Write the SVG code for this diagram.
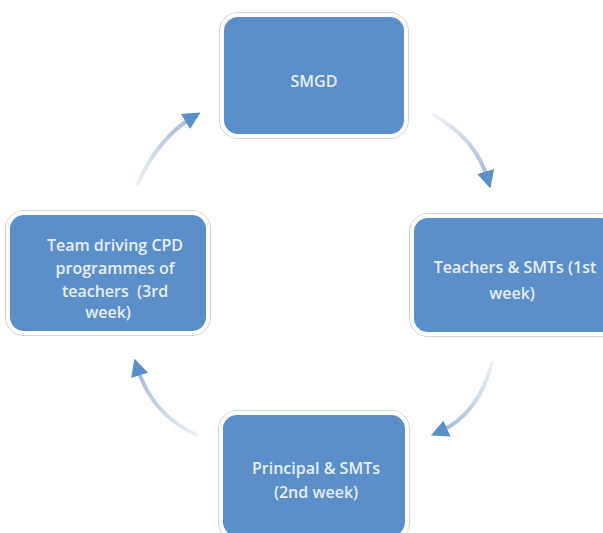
<svg xmlns="http://www.w3.org/2000/svg" width="603" height="533" viewBox="0 0 603 533">
<style>
.box{fill:#5b8fca;stroke:#ffffff;stroke-width:4}
.edge{fill:none;stroke:#d4d4d4;stroke-width:1.2}
.lbl{font-family:"Open Sans","Liberation Sans",sans-serif;font-size:16px;font-weight:600;fill:#e6eef8;text-anchor:middle;white-space:pre}
.arr{fill:none;stroke-width:4;stroke-linecap:round}
</style>
<defs>
<marker id="ah" viewBox="0 0 10 10" refX="5" refY="5" markerWidth="4.4" markerHeight="4.4" orient="auto" markerUnits="strokeWidth">
<path d="M0,0 L10,5 L0,10 Z" fill="#5b8fca"/>
</marker>
<linearGradient id="g1" gradientUnits="userSpaceOnUse" x1="433" y1="115" x2="490" y2="182"><stop offset="0" stop-color="#eef1f6"/><stop offset="1" stop-color="#9fb7d8"/></linearGradient>
<linearGradient id="g2" gradientUnits="userSpaceOnUse" x1="492" y1="363" x2="437" y2="432"><stop offset="0" stop-color="#eef1f6"/><stop offset="1" stop-color="#9fb7d8"/></linearGradient>
<linearGradient id="g3" gradientUnits="userSpaceOnUse" x1="197" y1="435" x2="137" y2="366"><stop offset="0" stop-color="#eef1f6"/><stop offset="1" stop-color="#9fb7d8"/></linearGradient>
<linearGradient id="g4" gradientUnits="userSpaceOnUse" x1="137" y1="185" x2="194" y2="118"><stop offset="0" stop-color="#eef1f6"/><stop offset="1" stop-color="#9fb7d8"/></linearGradient>
</defs>
<rect width="603" height="533" fill="#ffffff"/>
<g id="connectors">
<path class="arr" stroke="url(#g1)" d="M433,115 Q476,138 488,180" marker-end="url(#ah)"/>
<path class="arr" stroke="url(#g2)" d="M492,363 Q478,415 439,432" marker-end="url(#ah)"/>
<path class="arr" stroke="url(#g3)" d="M197,435 Q152,415 137,367" marker-end="url(#ah)"/>
<path class="arr" stroke="url(#g4)" d="M137,185 Q158,138 193,117" marker-end="url(#ah)"/>
</g>
<g id="smgd">
<rect class="edge" x="219.5" y="12.5" width="189" height="126" rx="19"/>
<rect class="box" x="222" y="15" width="184" height="121" rx="16"/>
<text class="lbl" x="314" y="87">SMGD</text>
</g>
<g id="teachers">
<rect class="edge" x="409.5" y="213.5" width="210" height="123" rx="19"/>
<rect class="box" x="412" y="216" width="205" height="118" rx="16"/>
<text class="lbl" x="515" y="273">Teachers &amp; SMTs (1st</text>
<text class="lbl" x="512" y="299">week)</text>
</g>
<g id="principal">
<rect class="edge" x="218.5" y="410.5" width="191" height="130" rx="19"/>
<rect class="box" x="221" y="413" width="186" height="125" rx="16"/>
<text class="lbl" x="316" y="474">Principal &amp; SMTs</text>
<text class="lbl" x="316" y="498">(2nd week)</text>
</g>
<g id="team">
<rect class="edge" x="5.5" y="210.5" width="205" height="125" rx="19"/>
<rect class="box" x="8" y="213" width="200" height="120" rx="16"/>
<text class="lbl" x="115" y="251">Team driving CPD</text>
<text class="lbl" x="115" y="274">programmes of</text>
<text class="lbl" x="115" y="297">teachers  (3rd</text>
<text class="lbl" x="108" y="318">week)</text>
</g>
</svg>
